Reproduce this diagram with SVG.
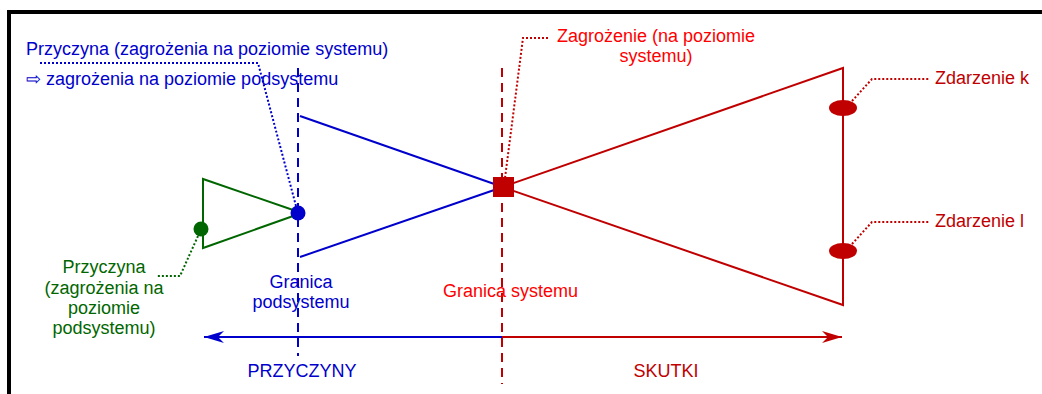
<svg xmlns="http://www.w3.org/2000/svg" width="1042" height="394" viewBox="0 0 1042 394">
<style>
text{font-family:"Liberation Sans",Arial,sans-serif;font-size:18px}
.b{fill:#0000CC}.r{fill:#FF0000}.dr{fill:#C00000}.g{fill:#006600}
.lb{stroke:#0000CC;stroke-width:2;fill:none}
.lr{stroke:#C00000;stroke-width:2;fill:none}
.lg{stroke:#006600;stroke-width:2;fill:none}
.dash{stroke-dasharray:9,6}
.dot{stroke-dasharray:2,2}
</style>
<defs>
<marker id="ab" viewBox="0 0 20 12" refX="20" refY="6" markerWidth="20" markerHeight="12" markerUnits="userSpaceOnUse" orient="auto"><path d="M0,0 L20,6 L0,12 L6,6 Z" fill="#0000CC"/></marker>
<marker id="ar" viewBox="0 0 20 12" refX="20" refY="6" markerWidth="20" markerHeight="12" markerUnits="userSpaceOnUse" orient="auto"><path d="M0,0 L20,6 L0,12 L6,6 Z" fill="#C00000"/></marker>
</defs>
<rect width="1042" height="394" fill="#fff"/>
<g id="frame">
<line x1="9" y1="12" x2="1042" y2="12" stroke="#000" stroke-width="4"/>
<line x1="9" y1="10" x2="9" y2="394" stroke="#000" stroke-width="4"/>
</g>
<g id="connectors">
<line class="lb dash" x1="298" y1="68" x2="298" y2="356"/>
<line class="lr dash" x1="502" y1="68" x2="502" y2="384"/>
<line class="lb" x1="502" y1="337" x2="204" y2="337" marker-end="url(#ab)"/>
<line class="lr" x1="502" y1="337" x2="842" y2="337" marker-end="url(#ar)"/>
<polyline class="lb dot" points="40,63 258,63 296,206"/>
<polyline class="lr dot" points="548,38 523,38 505,178"/>
<polyline class="lg dot" points="198,236 180,276 156,276"/>
<polyline class="lr dot" points="852,101 872,79 930,79"/>
<polyline class="lr dot" points="852,244 872,222 930,222"/>
</g>
<g id="green-tri">
<polyline class="lg" points="296,211 203,179 203,248 296,215"/>
<circle cx="201" cy="229" r="7.5" fill="#006600"/>
</g>
<g id="blue-tri">
<polyline class="lb" points="300,116 500,186"/>
<polyline class="lb" points="300,257 500,188"/>
<circle cx="298" cy="213" r="7.5" fill="#0000CC"/>
</g>
<g id="red-tri">
<polyline class="lr" points="505,186 843,68 843,305 505,188"/>
<rect x="493" y="177" width="21" height="20" fill="#C00000"/>
<ellipse cx="843" cy="108" rx="14" ry="8" fill="#C00000"/>
<ellipse cx="843" cy="251" rx="14" ry="8" fill="#C00000"/>
</g>
<g id="label-przyczyna-sys">
<text class="b" x="26" y="55">Przyczyna (zagrożenia na poziomie systemu)</text>
<text class="b" x="26" y="85">⇨ zagrożenia na poziomie podsystemu</text>
</g>
<g id="label-zagrozenie">
<text class="r" x="656" y="42" text-anchor="middle">Zagrożenie (na poziomie</text>
<text class="r" x="656" y="62" text-anchor="middle">systemu)</text>
</g>
<g id="label-zdarzenie-k"><text class="dr" x="935" y="84">Zdarzenie k</text></g>
<g id="label-zdarzenie-l"><text class="dr" x="935" y="227">Zdarzenie l</text></g>
<g id="label-przyczyna-pod">
<text class="g" x="104" y="273" text-anchor="middle">Przyczyna</text>
<text class="g" x="104" y="294" text-anchor="middle">(zagrożenia na</text>
<text class="g" x="104" y="314" text-anchor="middle">poziomie</text>
<text class="g" x="104" y="334" text-anchor="middle">podsystemu)</text>
</g>
<g id="label-granica-pod">
<text class="b" x="301" y="288" text-anchor="middle">Granica</text>
<text class="b" x="301" y="308" text-anchor="middle">podsystemu</text>
</g>
<g id="label-granica-sys"><text class="r" x="443" y="297">Granica systemu</text></g>
<g id="label-przyczyny"><text class="b" x="302" y="377" text-anchor="middle">PRZYCZYNY</text></g>
<g id="label-skutki"><text class="dr" x="666" y="377" text-anchor="middle">SKUTKI</text></g>
</svg>
